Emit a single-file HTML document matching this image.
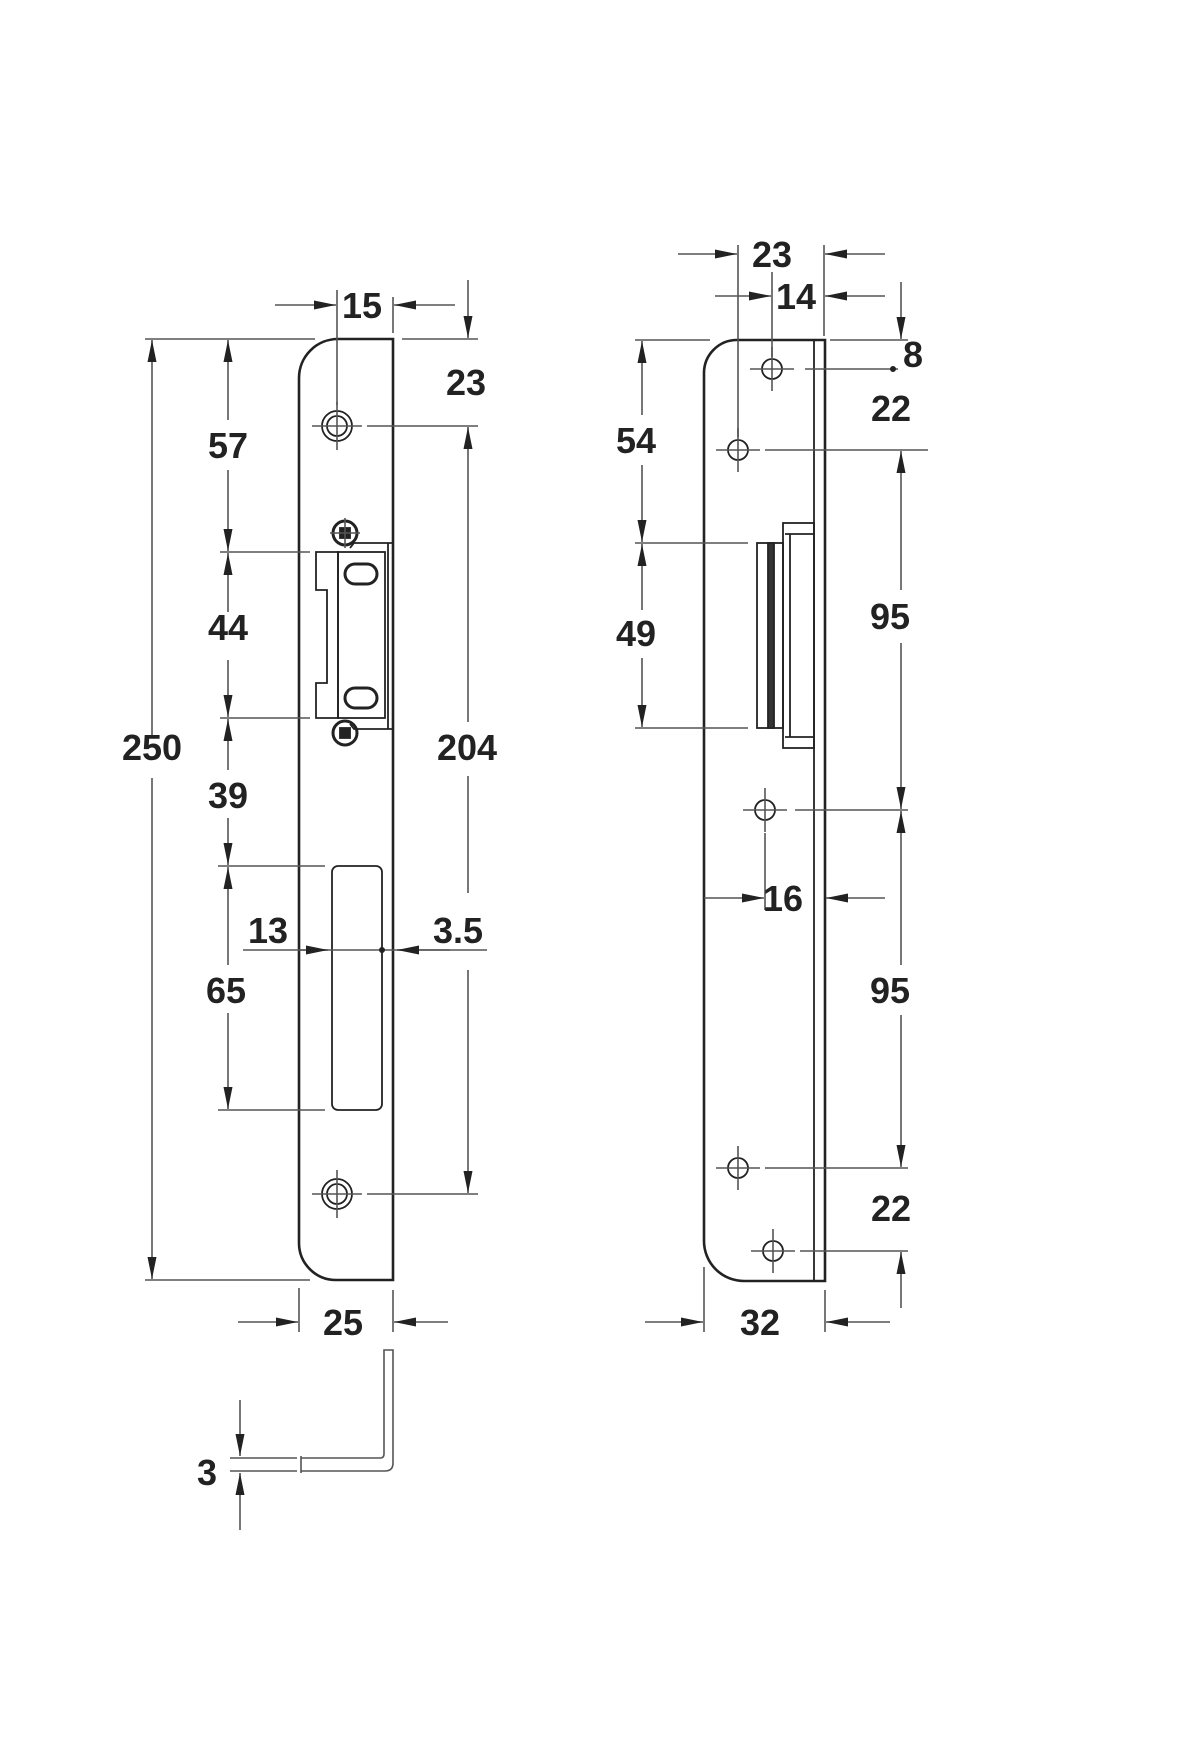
<!DOCTYPE html>
<html><head><meta charset="utf-8"><style>
html,body{margin:0;padding:0;background:#fff}
svg{display:block}
text{font-family:"Liberation Sans",Arial,sans-serif;font-weight:bold;fill:#222;font-size:36px;text-anchor:middle}
.d{stroke:#555;stroke-width:1.6;fill:none}
.p{stroke:#222;stroke-width:2.6;fill:none}
.t{stroke:#222;stroke-width:1.8;fill:none}
</style></head><body>
<svg width="1200" height="1760" viewBox="0 0 1200 1760" xmlns="http://www.w3.org/2000/svg">
<defs>
<marker id="a" markerWidth="24" markerHeight="12" refX="22" refY="6" orient="auto" markerUnits="userSpaceOnUse">
<path d="M0,1.5 L22,6 L0,10.5 Z" fill="#222"/></marker>
</defs>

<!-- LEFT PLATE -->
<path class="p" d="M393,339 L338,339 A39,39 0 0 0 299,378 L299,1243 A37,37 0 0 0 336,1280 L393,1280 Z"/>
<g class="t">
<circle cx="337" cy="426" r="15"/><circle cx="337" cy="426" r="10"/>
<line x1="312" y1="426" x2="362" y2="426" class="d"/><line x1="337" y1="402" x2="337" y2="450" class="d"/>
<circle cx="337" cy="1194" r="15"/><circle cx="337" cy="1194" r="10"/>
<line x1="312" y1="1194" x2="362" y2="1194" class="d"/><line x1="337" y1="1170" x2="337" y2="1218" class="d"/>
</g>
<!-- strike -->
<g class="t">
<path d="M316,552 L338,552 L338,718 L316,718 L316,683 L327,683 L327,590 L316,590 Z"/>
<rect x="338" y="552" width="47" height="166"/>
<path d="M350,548 L354,543 L393,543 M350,724 L354,729 L393,729"/>
<line x1="388" y1="543" x2="388" y2="729"/>
<circle cx="345" cy="533" r="12" stroke-width="3"/><rect x="340" y="528" width="10" height="10" fill="#222"/>
<circle cx="345" cy="733" r="12" stroke-width="3"/><rect x="340" y="728" width="10" height="10" fill="#222"/>
<rect x="345" y="564" width="32" height="20" rx="10" stroke-width="3"/>
<rect x="345" y="688" width="32" height="20" rx="10" stroke-width="3"/>
<line x1="330" y1="533" x2="360" y2="533" class="d"/><line x1="345" y1="518" x2="345" y2="548" class="d"/>
</g>
<!-- slot -->
<rect x="332" y="866" width="50" height="244" rx="6" class="t" stroke-width="2.2"/>

<!-- left dims -->
<g class="d">
<line x1="145" y1="339" x2="315" y2="339"/>
<line x1="145" y1="1280" x2="310" y2="1280"/>
<line x1="152" y1="735" x2="152" y2="340" marker-end="url(#a)"/>
<line x1="152" y1="778" x2="152" y2="1279" marker-end="url(#a)"/>
<line x1="220" y1="552" x2="310" y2="552"/>
<line x1="220" y1="718" x2="310" y2="718"/>
<line x1="218" y1="866" x2="325" y2="866"/>
<line x1="218" y1="1110" x2="325" y2="1110"/>
<line x1="228" y1="420" x2="228" y2="340" marker-end="url(#a)"/>
<line x1="228" y1="470" x2="228" y2="551" marker-end="url(#a)"/>
<line x1="228" y1="612" x2="228" y2="553" marker-end="url(#a)"/>
<line x1="228" y1="660" x2="228" y2="717" marker-end="url(#a)"/>
<line x1="228" y1="770" x2="228" y2="719" marker-end="url(#a)"/>
<line x1="228" y1="818" x2="228" y2="865" marker-end="url(#a)"/>
<line x1="228" y1="965" x2="228" y2="867" marker-end="url(#a)"/>
<line x1="228" y1="1013" x2="228" y2="1109" marker-end="url(#a)"/>
<!-- 15 / 23 -->
<line x1="337" y1="290" x2="337" y2="405"/>
<line x1="393" y1="297" x2="393" y2="333"/>
<line x1="275" y1="305" x2="336" y2="305" marker-end="url(#a)"/>
<line x1="455" y1="305" x2="394" y2="305" marker-end="url(#a)"/>
<line x1="468" y1="280" x2="468" y2="338" marker-end="url(#a)"/>
<line x1="402" y1="339" x2="478" y2="339"/>
<line x1="367" y1="426" x2="478" y2="426"/>
<line x1="367" y1="1194" x2="478" y2="1194"/>
<line x1="468" y1="722" x2="468" y2="427" marker-end="url(#a)"/>
<line x1="468" y1="776" x2="468" y2="893"/>
<line x1="468" y1="970" x2="468" y2="1193" marker-end="url(#a)"/>
<!-- 13 / 3.5 -->
<line x1="243" y1="950" x2="487" y2="950"/>
<line x1="300" y1="950" x2="328" y2="950" marker-end="url(#a)"/>
<line x1="450" y1="950" x2="397" y2="950" marker-end="url(#a)"/>
<!-- 25 -->
<line x1="299" y1="1288" x2="299" y2="1332"/>
<line x1="393" y1="1290" x2="393" y2="1332"/>
<line x1="238" y1="1322" x2="298" y2="1322" marker-end="url(#a)"/>
<line x1="448" y1="1322" x2="394" y2="1322" marker-end="url(#a)"/>
<!-- 3 -->
<line x1="240" y1="1400" x2="240" y2="1456" marker-end="url(#a)"/>
<line x1="240" y1="1530" x2="240" y2="1473" marker-end="url(#a)"/>
</g>
<circle cx="382" cy="950" r="3" fill="#222"/>
<!-- L key -->
<g class="d" stroke-width="2">
<path d="M230,1458 L297,1458 M230,1471 L297,1471 M301,1458 L380,1458 Q384,1458 384,1454 L384,1350 L393,1350 L393,1463 Q393,1471 385,1471 L301,1471 M301,1456 L301,1473"/>
</g>

<text x="362" y="318">15</text>
<text x="466" y="395">23</text>
<text x="228" y="458">57</text>
<text x="228" y="640">44</text>
<text x="152" y="760">250</text>
<text x="467" y="760">204</text>
<text x="228" y="808">39</text>
<text x="268" y="943">13</text>
<text x="458" y="943">3.5</text>
<text x="226" y="1003">65</text>
<text x="343" y="1335">25</text>
<text x="207" y="1485">3</text>

<!-- RIGHT PLATE -->
<path class="p" d="M825,340 L737,340 A33,33 0 0 0 704,373 L704,1241 A40,40 0 0 0 744,1281 L825,1281 Z"/>
<line x1="814" y1="340" x2="814" y2="1281" class="t"/>
<g class="t">
<circle cx="772" cy="369" r="10"/><circle cx="738" cy="450" r="10"/>
<circle cx="765" cy="810" r="10"/><circle cx="738" cy="1168" r="10"/><circle cx="773" cy="1251" r="10"/>
</g>
<g class="d">
<line x1="750" y1="369" x2="794" y2="369"/><line x1="772" y1="347" x2="772" y2="391"/>
<line x1="716" y1="450" x2="760" y2="450"/><line x1="738" y1="428" x2="738" y2="472"/>
<line x1="743" y1="810" x2="787" y2="810"/><line x1="765" y1="788" x2="765" y2="832"/>
<line x1="716" y1="1168" x2="760" y2="1168"/><line x1="738" y1="1146" x2="738" y2="1190"/>
<line x1="751" y1="1251" x2="795" y2="1251"/><line x1="773" y1="1229" x2="773" y2="1273"/>
</g>
<!-- strike right -->
<g class="t">
<rect x="783" y="523" width="31" height="225"/>
<line x1="785" y1="534" x2="814" y2="534"/><line x1="785" y1="737" x2="814" y2="737"/>
<rect x="757" y="543" width="26" height="185"/>
<rect x="768" y="543" width="6" height="185" fill="#333"/>
<line x1="790" y1="534" x2="790" y2="737"/>
</g>
<g class="d">
<!-- 23/14 -->
<line x1="738" y1="245" x2="738" y2="437"/>
<line x1="824" y1="245" x2="824" y2="336"/>
<line x1="772" y1="272" x2="772" y2="357"/>
<line x1="678" y1="254" x2="737" y2="254" marker-end="url(#a)"/>
<line x1="885" y1="254" x2="825" y2="254" marker-end="url(#a)"/>
<line x1="715" y1="296" x2="771" y2="296" marker-end="url(#a)"/>
<line x1="885" y1="296" x2="825" y2="296" marker-end="url(#a)"/>
<!-- right verticals -->
<line x1="830" y1="340" x2="908" y2="340"/>
<line x1="901" y1="282" x2="901" y2="339" marker-end="url(#a)"/>
<line x1="805" y1="369" x2="898" y2="369"/>
<line x1="765" y1="450" x2="928" y2="450"/>
<line x1="901" y1="590" x2="901" y2="451" marker-end="url(#a)"/>
<line x1="901" y1="643" x2="901" y2="809" marker-end="url(#a)"/>
<line x1="795" y1="810" x2="908" y2="810"/>
<line x1="901" y1="965" x2="901" y2="811" marker-end="url(#a)"/>
<line x1="901" y1="1015" x2="901" y2="1167" marker-end="url(#a)"/>
<line x1="765" y1="1168" x2="908" y2="1168"/>
<line x1="800" y1="1251" x2="908" y2="1251"/>
<line x1="901" y1="1308" x2="901" y2="1252" marker-end="url(#a)"/>
<!-- 54/49 -->
<line x1="635" y1="340" x2="710" y2="340"/>
<line x1="635" y1="543" x2="748" y2="543"/>
<line x1="635" y1="728" x2="748" y2="728"/>
<line x1="642" y1="415" x2="642" y2="341" marker-end="url(#a)"/>
<line x1="642" y1="465" x2="642" y2="542" marker-end="url(#a)"/>
<line x1="642" y1="610" x2="642" y2="544" marker-end="url(#a)"/>
<line x1="642" y1="658" x2="642" y2="727" marker-end="url(#a)"/>
<!-- 16 -->
<line x1="765" y1="833" x2="765" y2="910"/>
<line x1="704" y1="898" x2="764" y2="898" marker-end="url(#a)"/>
<line x1="885" y1="898" x2="826" y2="898" marker-end="url(#a)"/>
<!-- 32 -->
<line x1="704" y1="1267" x2="704" y2="1332"/>
<line x1="825" y1="1290" x2="825" y2="1332"/>
<line x1="645" y1="1322" x2="703" y2="1322" marker-end="url(#a)"/>
<line x1="890" y1="1322" x2="826" y2="1322" marker-end="url(#a)"/>
</g>
<circle cx="893" cy="369" r="3" fill="#222"/>
<text x="772" y="267">23</text>
<text x="796" y="309">14</text>
<text x="913" y="367">8</text>
<text x="891" y="421">22</text>
<text x="636" y="453">54</text>
<text x="890" y="629">95</text>
<text x="636" y="646">49</text>
<text x="783" y="911">16</text>
<text x="890" y="1003">95</text>
<text x="891" y="1221">22</text>
<text x="760" y="1335">32</text>
</svg>
</body></html>
